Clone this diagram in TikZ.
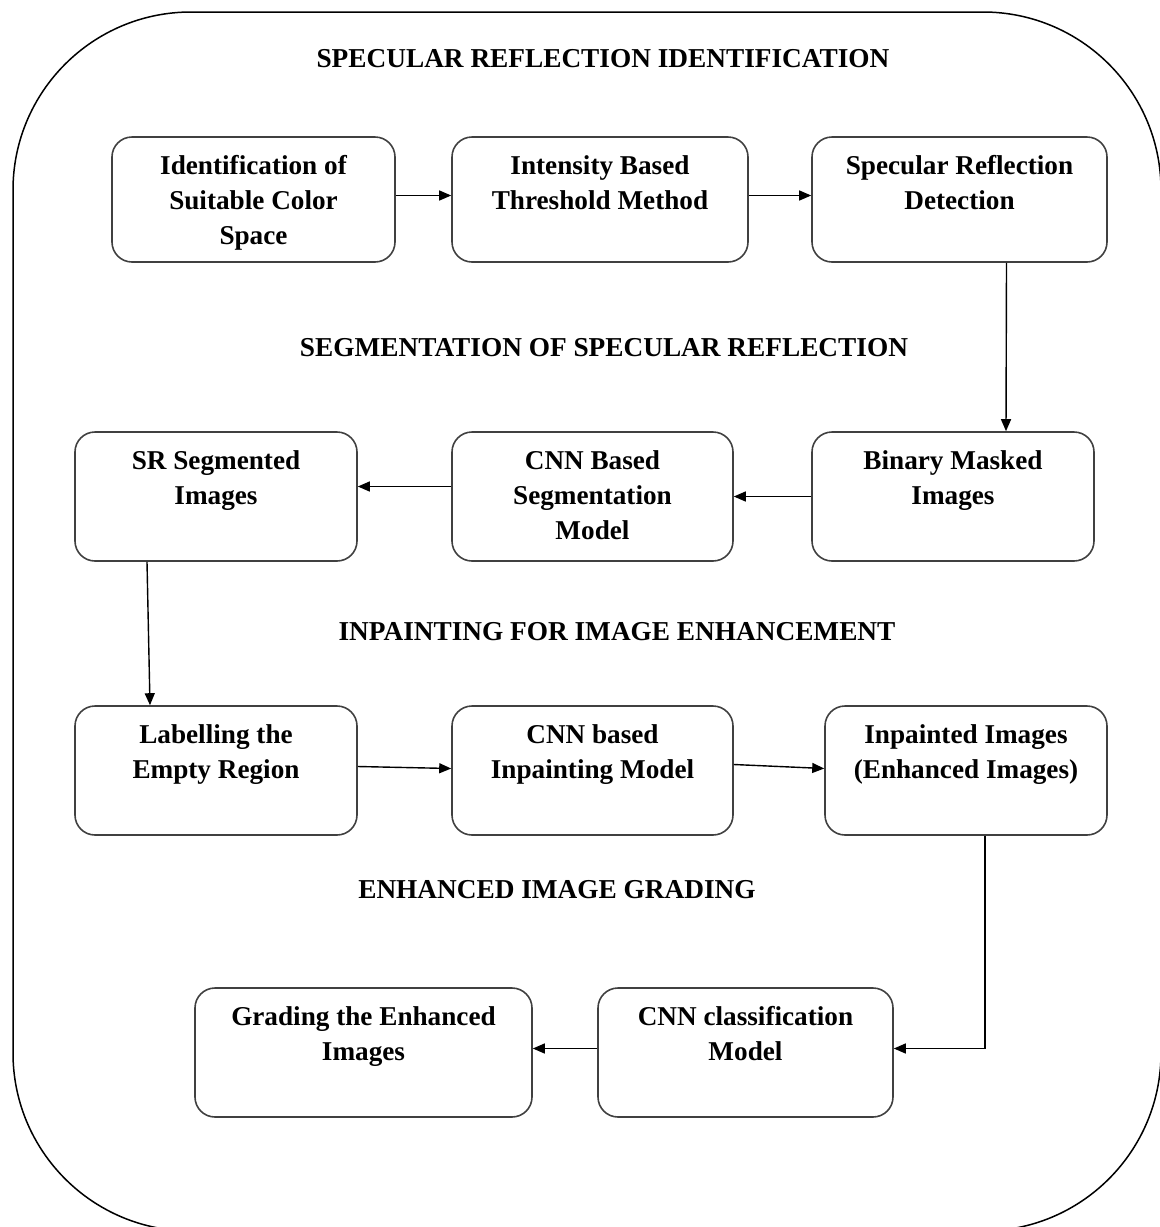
\documentclass[tikz,border=0pt]{standalone}
\usepackage{fontspec}
\setmainfont{Liberation Serif}
\usetikzlibrary{arrows.meta,calc}
\begin{document}
\begin{tikzpicture}[x=1pt,y=-1pt,
  box/.style={draw=black!75, line width=1.6pt, rounded corners=20pt, inner sep=0pt},
  lbl/.style={inner sep=0pt, anchor=north, align=center, font=\bfseries\fontsize{27.2}{35}\selectfont},
  ttl/.style={inner sep=0pt, font=\bfseries\fontsize{27.3}{30}\selectfont},
  arr/.style={line width=1.4pt, -{Triangle[length=12pt,width=10pt]}}
]
\useasboundingbox (0,0) rectangle (1160,1227);
% outer frame
\draw[line width=1.5pt, rounded corners=178pt] (13,12) rectangle (1161,1231);
% titles
\node[ttl] (t1) at (603,59) {SPECULAR REFLECTION IDENTIFICATION};
\node[ttl] (t2) at (604,348) {SEGMENTATION OF SPECULAR REFLECTION};
\node[ttl] (t3) at (617,632) {INPAINTING FOR IMAGE ENHANCEMENT};
\node[ttl] (t4) at (557,890) {ENHANCED IMAGE GRADING};
% boxes
\newcommand{\mybox}[6]{%
  \node[box, minimum width=#4, minimum height=#5] (#1) at (#2,#3) {};
  \node[lbl] (#1t) at ([yshift=-19pt]#1.north) {#6};}
\mybox{b1}{253.5}{199.5}{283}{125}{Identification of\\Suitable Color\\Space}
\mybox{b2}{600}{199.5}{296}{125}{Intensity Based\\Threshold Method}
\mybox{b3}{959.5}{199.5}{295}{125}{Specular Reflection\\Detection}
\mybox{b4}{216}{496.5}{282}{129}{SR Segmented\\Images}
\mybox{b5}{592.5}{496.5}{281}{129}{CNN Based\\Segmentation\\Model}
\mybox{b6}{953}{496.5}{282}{129}{Binary Masked\\Images}
\mybox{b7}{216}{770.5}{282}{129}{Labelling the\\Empty Region}
\mybox{b8}{592.5}{770.5}{281}{129}{CNN based\\Inpainting Model}
\mybox{b9}{966}{770.5}{282}{129}{Inpainted Images\\(Enhanced Images)}
\mybox{b10}{363.5}{1052.5}{337}{129}{Grading the Enhanced\\Images}
\mybox{b11}{745.5}{1052.5}{295}{129}{CNN classification\\Model}
% connectors
\draw[arr] ([yshift=4pt]b1.east) -- ([yshift=4pt]b2.west);
\draw[arr] ([yshift=4pt]b2.east) -- ([yshift=4pt]b3.west);
\draw[arr] ([xshift=47pt]b3.south) -- ([xshift=53pt]b6.north);
\draw[arr] (b6.west) -- (b5.west -| b5.east);
\draw[arr] ([yshift=10pt]b5.west) -- ([yshift=10pt]b4.east);
\draw[arr] ([xshift=-69pt]b4.south) -- ([xshift=-66pt]b7.north);
\draw[arr] ([yshift=4pt]b7.east) -- ([yshift=2pt]b8.west);
\draw[arr] ([yshift=6pt]b8.east) -- ([yshift=2pt]b9.west);
\draw[arr] ([xshift=19pt]b9.south) |- ([yshift=4pt]b11.east);
\draw[arr] ([yshift=4pt]b11.west) -- ([yshift=4pt]b10.east);
\end{tikzpicture}
\end{document}
